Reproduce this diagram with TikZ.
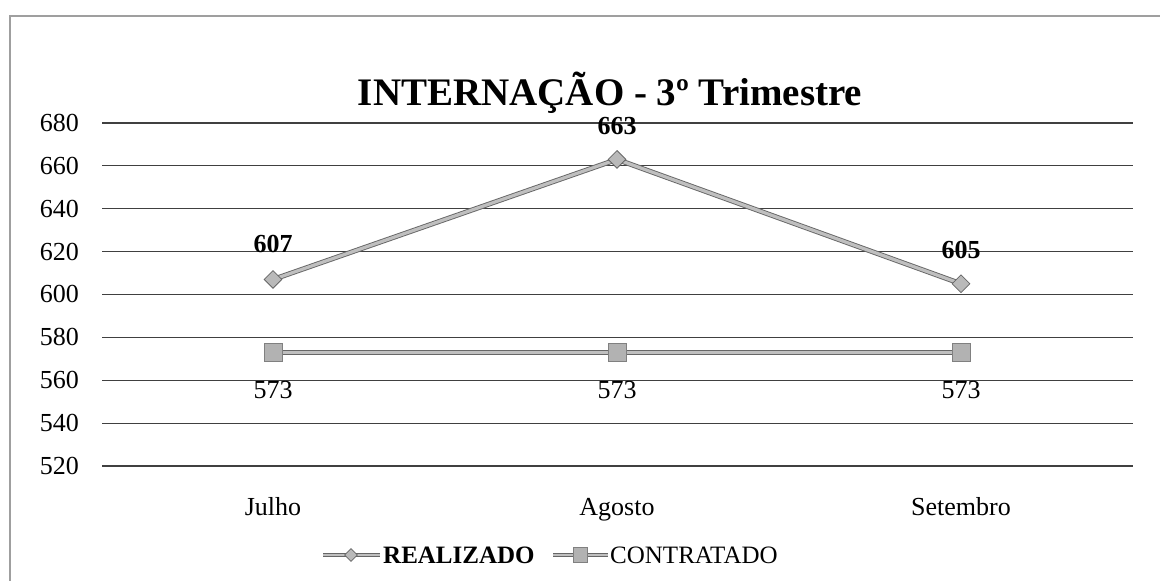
\documentclass[tikz,border=0pt]{standalone}
\usepackage{fontspec}
\setmainfont{Liberation Serif}
\usetikzlibrary{shapes.geometric}
\begin{document}
\begin{tikzpicture}[x=1pt,y=1pt,
  ticklbl/.style={font=\fontsize{26}{30}\selectfont, anchor=east, inner sep=0pt},
  monthlbl/.style={font=\fontsize{26}{30}\selectfont, anchor=base, inner sep=0pt},
  vallbl/.style={font=\fontsize{26}{30}\selectfont\bfseries, inner sep=0pt},
  vallbln/.style={font=\fontsize{26}{30}\selectfont, inner sep=0pt},
  grid/.style={draw=black!75, line width=1.1pt},
  series/.style={draw=black!60, double=gray!50, double distance=3.2pt, line width=0.9pt},
  dmark/.style={diamond, draw=black!60, fill=gray!55, line width=0.8pt, minimum width=18pt, minimum height=18pt, inner sep=0pt},
  smark/.style={rectangle, draw=black!50, fill=gray!60, line width=0.6pt, minimum width=18pt, minimum height=18pt, inner sep=0pt},
  ldmark/.style={diamond, draw=black!60, fill=gray!55, line width=0.7pt, minimum width=13pt, minimum height=13pt, inner sep=0pt},
  lsmark/.style={rectangle, draw=black!50, fill=gray!60, line width=0.5pt, minimum width=14pt, minimum height=15pt, inner sep=0pt},
  lseries/.style={draw=black!60, double=gray!50, double distance=2pt, line width=0.8pt},
  legtxt/.style={font=\fontsize{25}{30}\selectfont, anchor=west, inner sep=0pt}
]
\useasboundingbox (0,0) rectangle (1160,581);
\fill[white] (0,0) rectangle (1160,581);
% frame
\coordinate (fbl) at (10,0);
\coordinate (ftl) at (10,565);
\coordinate (ftr) at (1160,565);
\draw[gray!75, line width=1.4pt] (fbl) -- (ftl) -- (ftr);
% title
\node[font=\fontsize{39}{44}\selectfont\bfseries, inner sep=0pt] (title) at (610,488) {INTERNAÇÃO - 3º Trimestre};
% gridlines and tick labels
\foreach \v in {520,540,...,680} {
  \coordinate (gl\v) at (102,{115+(\v-520)*2.144});
  \coordinate (gr\v) at (1133,{115+(\v-520)*2.144});
  \draw[grid] (gl\v) -- (gr\v);
  \node[ticklbl] (t\v) at (79,{115+(\v-520)*2.144}) {\v};
}
% data coordinates
\coordinate (r1) at (273,{115+(607-520)*2.144});
\coordinate (r2) at (617,{115+(663-520)*2.144});
\coordinate (r3) at (961,{115+(605-520)*2.144});
\coordinate (c1) at (273,{115+(573-520)*2.144});
\coordinate (c2) at (617,{115+(573-520)*2.144});
\coordinate (c3) at (961,{115+(573-520)*2.144});
% series lines
\draw[series] (r1) -- (r2) -- (r3);
\draw[series] (c1) -- (c2) -- (c3);
% markers
\node[dmark] (mr1) at (r1) {};
\node[dmark] (mr2) at (r2) {};
\node[dmark] (mr3) at (r3) {};
\node[smark] (mc1) at (c1) {};
\node[smark] (mc2) at (c2) {};
\node[smark] (mc3) at (c3) {};
% value labels
\node[vallbl] (lr1) at ([yshift=35pt]r1) {607};
\node[vallbl] (lr2) at ([yshift=33pt]r2) {663};
\node[vallbl] (lr3) at ([yshift=34pt]r3) {605};
\node[vallbln] (lc1) at ([yshift=-38pt]c1) {573};
\node[vallbln] (lc2) at ([yshift=-38pt]c2) {573};
\node[vallbln] (lc3) at ([yshift=-38pt]c3) {573};
% month labels
\node[monthlbl] (m1) at (273,65) {Julho};
\node[monthlbl] (m2) at (617,65) {Agosto};
\node[monthlbl] (m3) at (961,65) {Setembro};
% legend
\coordinate (la1) at (323,26);
\coordinate (la2) at (380,26);
\draw[lseries] (la1) -- (la2);
\node[ldmark] (lgd1) at (351,26) {};
\node[legtxt, font=\fontsize{25}{30}\selectfont\bfseries] (lt1) at (383,26) {REALIZADO};
\coordinate (lb1) at (553,26);
\coordinate (lb2) at (608,26);
\draw[lseries] (lb1) -- (lb2);
\node[lsmark] (lgd2) at (580,26) {};
\node[legtxt] (lt2) at (610,26) {CONTRATADO};
\end{tikzpicture}
\end{document}
